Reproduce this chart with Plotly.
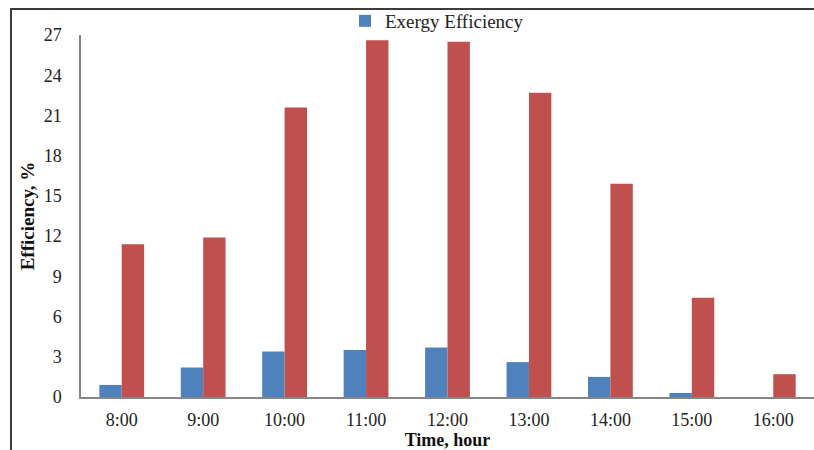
import plotly.graph_objects as go

hours = ["8:00", "9:00", "10:00", "11:00", "12:00", "13:00", "14:00", "15:00", "16:00"]
exergy_eff = [0.9, 2.2, 3.4, 3.5, 3.7, 2.6, 1.5, 0.3, 0.0]
energy_eff = [11.4, 11.9, 21.6, 26.6, 26.5, 22.7, 15.9, 7.4, 1.7]
y_ticks = [0, 3, 6, 9, 12, 15, 18, 21, 24, 27]

W, H = 814, 450
L, R, T, B = 81, 0, 35, 53
pw = W - L - R
ph = H - T - B

fig = go.Figure()
fig.add_trace(go.Bar(x=hours, y=exergy_eff, name="Exergy Efficiency",
                     marker=dict(color="#4F81BD", line=dict(width=0))))
fig.add_trace(go.Bar(x=hours, y=energy_eff, name="Energy Efficiency", showlegend=False,
                     marker=dict(color="#C0504D", line=dict(width=0))))

fam = "Liberation Serif, Times New Roman, serif"
tick_font = dict(family=fam, size=18, color="#222222")
title_font = dict(family=fam, size=18, color="#111111")

fig.update_layout(
    width=W, height=H,
    margin=dict(l=L, r=R, t=T, b=B, autoexpand=False),
    paper_bgcolor="white", plot_bgcolor="white",
    barmode="group", bargap=0.45, bargroupgap=0,
    font=tick_font,
    showlegend=True,
    legend=dict(orientation="h", x=(345 - L) / pw, xanchor="left",
                y=(H - B - 21) / ph, yanchor="middle",
                font=dict(family=fam, size=19, color="#222222"),
                itemwidth=30, bgcolor="rgba(0,0,0,0)"),
    xaxis=dict(showline=True, linecolor="#878787", linewidth=1.5,
               showgrid=False, ticks="", ticklabelstandoff=6,
               tickfont=tick_font, range=[-0.5, 8.5],
               title=dict(text="<b>Time, hour</b>", font=title_font, standoff=5)),
    yaxis=dict(showline=True, linecolor="#878787", linewidth=1.5,
               showgrid=False, zeroline=False, ticks="", ticklabelstandoff=14,
               tickvals=y_ticks, range=[0, 27], tickfont=tick_font,
               title=dict(text="<b>Efficiency, %</b>", font=dict(family=fam, size=19, color="#111111"), standoff=4)),
    shapes=[dict(type="rect", xref="paper", yref="paper",
                 x0=(11 - L) / pw, x1=1.2, y0=-0.3, y1=(H - B - 9) / ph,
                 line=dict(color="#3c3c3c", width=2), fillcolor="rgba(0,0,0,0)",
                 layer="above")],
)

fig.write_html("out.html")
